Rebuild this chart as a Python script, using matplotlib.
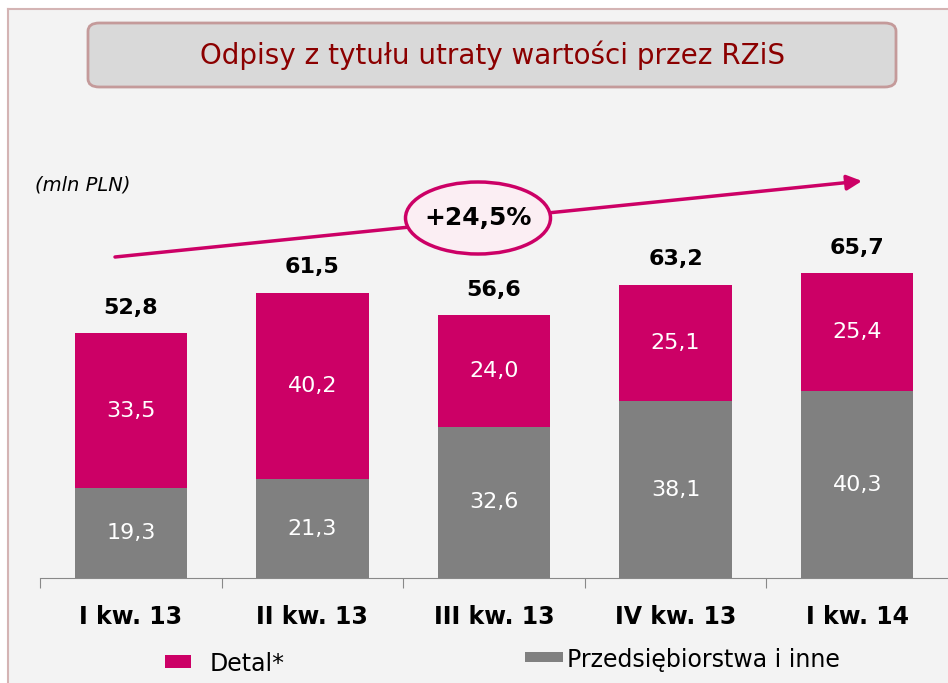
import matplotlib.pyplot as plt
from matplotlib.patches import FancyBboxPatch, Ellipse, Rectangle
from matplotlib.lines import Line2D

# Data
categories = ['I kw. 13', 'II kw. 13', 'III kw. 13', 'IV kw. 13', 'I kw. 14']
przedsiebiorstwa = [19.3, 21.3, 32.6, 38.1, 40.3]
detal = [33.5, 40.2, 24.0, 25.1, 25.4]
totals = [52.8, 61.5, 56.6, 63.2, 65.7]

MAGENTA = '#cc0066'
GRAY = '#808080'
BG = '#f3f3f3'


def fmt(v):
    return f'{v:.1f}'.replace('.', ',')


fig = plt.figure(figsize=(9.48, 6.83), dpi=100)
fig.patch.set_facecolor('white')
W, H = 948, 683

# background panel with thin border on left/top
fig.patches.append(Rectangle((8 / W, 0), 1, 1 - 9 / H, transform=fig.transFigure,
                             facecolor=BG, edgecolor='none', zorder=-10))
fig.lines.append(Line2D([8 / W, 8 / W], [0, 1 - 9 / H], transform=fig.transFigure,
                        color='#d4b4b4', lw=1.5, zorder=-5))
fig.lines.append(Line2D([8 / W, 1], [1 - 9 / H, 1 - 9 / H], transform=fig.transFigure,
                        color='#d4b4b4', lw=1.5, zorder=-5))

# title box
fig.patches.append(FancyBboxPatch((88 / W, 1 - 87 / H), 808 / W, 64 / H,
                                  boxstyle='round,pad=0,rounding_size=0.012',
                                  transform=fig.transFigure, facecolor='#d9d9d9',
                                  edgecolor='#c49a9a', lw=2, zorder=2))
fig.text(492 / W, 1 - 55 / H, 'Odpisy z tytułu utraty wartości przez RZiS',
         ha='center', va='center', fontsize=20, color='#8b0000', zorder=3)

fig.text(35 / W, 1 - 185 / H, '(mln PLN)', fontsize=14, style='italic',
         ha='left', va='center')

# axes: baseline at y=578px, 4.64 px per unit
ax = fig.add_axes([40 / W, 1 - 578 / H, 1 - 40 / W, 428 / H])
ax.set_zorder(1)
ax.set_facecolor('none')
ax.set_ylim(0, 428 / 4.64)
ax.set_xlim(-0.5, len(categories) - 0.5)

x = range(len(categories))
width = 0.62
ax.bar(x, przedsiebiorstwa, width, color=GRAY, label='Przedsiębiorstwa i inne')
ax.bar(x, detal, width, bottom=przedsiebiorstwa, color=MAGENTA, label='Detal*')

for i in x:
    ax.text(i, przedsiebiorstwa[i] / 2, fmt(przedsiebiorstwa[i]), ha='center',
            va='center', color='white', fontsize=16)
    ax.text(i, przedsiebiorstwa[i] + detal[i] / 2, fmt(detal[i]), ha='center',
            va='center', color='white', fontsize=16)
    ax.text(i, totals[i] + 3.3, fmt(totals[i]), ha='center', va='bottom',
            color='black', fontsize=16, fontweight='bold')

for s in ['top', 'right', 'left']:
    ax.spines[s].set_visible(False)
ax.spines['bottom'].set_color('#888888')
ax.set_yticks([])
ax.set_xticks([i - 0.5 for i in x])
ax.set_xticklabels([])
ax.tick_params(axis='x', length=7, color='#888888')
for i in x:
    ax.text(i, -0.062, categories[i], transform=ax.get_xaxis_transform(),
            ha='center', va='top', fontsize=17, fontweight='bold')

# growth arrow
ax.annotate('', xy=(862 / W, 1 - 181 / H), xytext=(115 / W, 1 - 257 / H),
            xycoords='figure fraction', textcoords='figure fraction',
            annotation_clip=False,
            arrowprops=dict(arrowstyle='-|>,head_length=0.9,head_width=0.45',
                            color=MAGENTA, lw=2.5, shrinkA=0, shrinkB=0))
fig.patches.append(Ellipse((478 / W, 1 - 218 / H), 145 / W, 72 / H,
                           transform=fig.transFigure, facecolor='#fbeef3',
                           edgecolor=MAGENTA, lw=2.5, zorder=5))
fig.text(478 / W, 1 - 218 / H, '+24,5%', ha='center', va='center',
         fontsize=18, fontweight='bold', zorder=6)

# legend
fig.patches.append(Rectangle((165 / W, 1 - 668 / H), 26 / W, 13 / H,
                             transform=fig.transFigure, facecolor=MAGENTA))
fig.text(210 / W, 1 - 664 / H, 'Detal*', fontsize=17, va='center', ha='left')
fig.patches.append(Rectangle((525 / W, 1 - 662 / H), 38 / W, 10 / H,
                             transform=fig.transFigure, facecolor=GRAY))
fig.text(567 / W, 1 - 660 / H, 'Przedsiębiorstwa i inne', fontsize=17,
         va='center', ha='left')

fig.savefig('out.png', dpi=100, facecolor=fig.get_facecolor())
